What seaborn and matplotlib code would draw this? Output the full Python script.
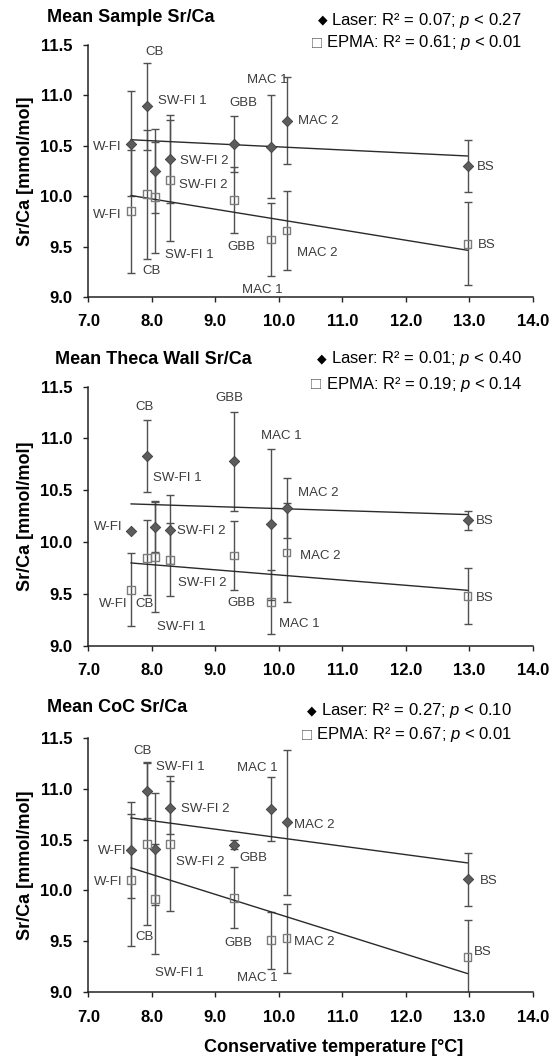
import matplotlib
matplotlib.use("Agg")
import matplotlib.pyplot as plt
import seaborn as sns

# ---- data -------------------------------------------------------------
stations = ["W-FI", "CB", "SW-FI 1", "SW-FI 2", "GBB", "MAC 1", "MAC 2", "BS"]
temperature = [7.67, 7.93, 8.05, 8.29, 9.30, 9.87, 10.12, 12.97]

sample_laser = [10.52, 10.89, 10.25, 10.37, 10.52, 10.49, 10.75, 10.30]
sample_laser_err = [0.52, 0.43, 0.42, 0.44, 0.28, 0.51, 0.43, 0.26]
sample_epma = [9.85, 10.02, 9.99, 10.16, 9.96, 9.57, 9.66, 9.53]
sample_epma_err = [0.61, 0.64, 0.55, 0.60, 0.33, 0.36, 0.39, 0.41]

theca_laser = [10.11, 10.83, 10.15, 10.12, 10.78, 10.17, 10.33, 10.21]
theca_laser_err = [0.0, 0.35, 0.25, 0.33, 0.48, 0.73, 0.29, 0.09]
theca_epma = [9.54, 9.85, 9.86, 9.83, 9.87, 9.42, 9.90, 9.48]
theca_epma_err = [0.35, 0.36, 0.53, 0.35, 0.33, 0.31, 0.48, 0.27]

coc_laser = [10.40, 10.98, 10.41, 10.81, 10.45, 10.80, 10.67, 10.11]
coc_laser_err = [0.47, 0.27, 0.55, 0.26, 0.045, 0.315, 0.71, 0.26]
coc_epma = [10.10, 10.46, 9.92, 10.46, 9.93, 9.51, 9.53, 9.35]
coc_epma_err = [0.65, 0.80, 0.54, 0.66, 0.30, 0.28, 0.34, 0.36]

panel_titles = ["Mean Sample Sr/Ca", "Mean Theca Wall Sr/Ca", "Mean CoC Sr/Ca"]
laser_stats = ["R\u00b2 = 0.07; $p$ < 0.27", "R\u00b2 = 0.01; $p$ < 0.40", "R\u00b2 = 0.27; $p$ < 0.10"]
epma_stats = ["R\u00b2 = 0.61; $p$ < 0.01", "R\u00b2 = 0.19; $p$ < 0.14", "R\u00b2 = 0.67; $p$ < 0.01"]

y_ticks = [9.0, 9.5, 10.0, 10.5, 11.0, 11.5]
x_ticks = [7.0, 8.0, 9.0, 10.0, 11.0, 12.0, 13.0, 14.0]

# ---- layout (pixels) ----------------------------------------------------
W, H = 553, 1059
axes_px = [(88.3, 45.0, 533.0, 297.0),
           (88.3, 386.7, 533.0, 645.7),
           (88.3, 737.7, 533.0, 992.3)]
title_px = [(47, 17), (55, 360), (47, 707)]
legend_px = [((522, 20), (522, 43)), ((522, 359), (522, 385)), ((512, 711), (512, 735))]

# station label offsets in pixels (dx, dy, ha) relative to each marker
laser_label_pos = [
    [(-9, -3, "right"), (7, 54, "center"), (3, 70, "left"), (10, -2, "left"),
     (9, 41, "center"), (-3, 67, "center"), (11, 0, "left"), (9, -1, "left")],
    [(-8, 4, "right"), (-3, 49, "center"), (-2, 49, "left"), (7, -1, "left"),
     (-5, 63, "center"), (11, 88, "center"), (11, 15, "left"), (8, -1, "left")],
    [(-4, -1, "right"), (-5, 40, "center"), (1, 82, "left"), (11, -1, "left"),
     (5, -13, "left"), (-13, 41, "center"), (7, -3, "left"), (12, -2, "left")],
]
epma_label_pos = [
    [(-9, -4, "right"), (4, -77, "center"), (10, -58, "left"), (9, -5, "left"),
     (7, -47, "center"), (-8, -50, "center"), (10, -23, "left"), (10, -1, "left")],
    [(-3, -14, "right"), (-3, -46, "center"), (2, -70, "left"), (8, -23, "left"),
     (7, -47, "center"), (8, -22, "left"), (13, -4, "left"), (8, -2, "left")],
    [(-8, -2, "right"), (-3, -93, "center"), (0, -74, "left"), (6, -18, "left"),
     (4, -45, "center"), (-13, -38, "center"), (7, -4, "left"), (6, 5, "left")],
]

# ---- style ------------------------------------------------------------------
sns.set_theme(style="ticks")
plt.rcParams["font.family"] = ["Liberation Sans", "DejaVu Sans"]
plt.rcParams["mathtext.fontset"] = "custom"
plt.rcParams["mathtext.rm"] = "Liberation Sans"
plt.rcParams["mathtext.it"] = "Liberation Sans:italic"

BAR = "#505050"
DIAMOND = "#5c5c5c"
SQUARE = "#7c7c7c"
LABEL = "#3c3c3c"
FIT = "#2a2a2a"

fig = plt.figure(figsize=(W / 100, H / 100), dpi=100)


def fig_xy(px, py):
    return px / W, 1 - py / H


panels = [
    (sample_laser, sample_laser_err, sample_epma, sample_epma_err),
    (theca_laser, theca_laser_err, theca_epma, theca_epma_err),
    (coc_laser, coc_laser_err, coc_epma, coc_epma_err),
]

for i, (laser, laser_err, epma, epma_err) in enumerate(panels):
    l, t, r, b = axes_px[i]
    ax = fig.add_axes([l / W, 1 - b / H, (r - l) / W, (b - t) / H])

    for vals, errs in ((laser, laser_err), (epma, epma_err)):
        ax.errorbar(temperature, vals, yerr=errs, fmt="none", ecolor=BAR,
                    elinewidth=1.0, capsize=2.6, capthick=1.0, zorder=2)

    for vals in (laser, epma):
        sns.regplot(x=temperature, y=vals, ax=ax, scatter=False, ci=None,
                    truncate=True, line_kws=dict(color=FIT, lw=1.0, zorder=3))

    sns.scatterplot(x=temperature, y=laser, ax=ax, marker="D", s=28,
                    color=DIAMOND, edgecolor="#3d3d3d", linewidth=0.6,
                    zorder=4, legend=False)
    sns.scatterplot(x=temperature, y=epma, ax=ax, marker="s", s=32,
                    color=SQUARE, edgecolor=SQUARE, linewidth=1.0,
                    zorder=4, legend=False)
    ax.collections[-1].set_facecolor("none")

    for name, tx, v, (dx, dy, ha) in zip(stations, temperature, laser, laser_label_pos[i]):
        ax.annotate(name, (tx, v), xytext=(dx, dy), textcoords="offset pixels",
                    ha=ha, va="center", fontsize=9.5, color=LABEL, zorder=5)
    for name, tx, v, (dx, dy, ha) in zip(stations, temperature, epma, epma_label_pos[i]):
        ax.annotate(name, (tx, v), xytext=(dx, dy), textcoords="offset pixels",
                    ha=ha, va="center", fontsize=9.5, color=LABEL, zorder=5)

    ax.set_xlim(7, 14)
    ax.set_ylim(9, 11.5)
    ax.set_xticks(x_ticks)
    ax.set_yticks(y_ticks)
    ax.set_xticklabels([f"{v:.1f}" for v in x_ticks])
    ax.set_yticklabels([f"{v:.1f}" for v in y_ticks])
    ax.tick_params(axis="both", direction="out", length=3.6, width=1.0,
                   colors="#222222", labelsize=12)
    ax.tick_params(axis="x", pad=9)
    ax.tick_params(axis="y", pad=8)
    for lab in ax.get_xticklabels() + ax.get_yticklabels():
        lab.set_fontweight("bold")
        lab.set_color("black")
    sns.despine(ax=ax)
    for side in ("left", "bottom"):
        ax.spines[side].set_color("#222222")
        ax.spines[side].set_linewidth(1.1)
    ax.set_ylabel("Sr/Ca [mmol/mol]", fontsize=13, fontweight="bold",
                  color="black", labelpad=4)
    ax.set_xlabel("")

    # panel title
    fx, fy = fig_xy(*title_px[i])
    fig.text(fx, fy, panel_titles[i], ha="left", va="center", fontsize=13,
             fontweight="bold", color="black")

    # regression statistics key
    for (px, py), glyph, gcol, gsize, label in (
            (legend_px[i][0], "\u25c6", "black", 9, "Laser: " + laser_stats[i]),
            (legend_px[i][1], "\u25a1", "#666666", 12, "EPMA: " + epma_stats[i])):
        fx, fy = fig_xy(px, py)
        txt = fig.text(fx, fy, label, ha="right", va="center", fontsize=12,
                       color="black")
        ax.annotate(glyph, xy=(0, 0.5), xycoords=txt, xytext=(-3, 0),
                    textcoords="offset points", ha="right", va="center",
                    fontsize=gsize, color=gcol, annotation_clip=False)

fx, fy = fig_xy(334, 1048)
fig.text(fx, fy, "Conservative temperature [\u00b0C]", ha="center", va="center",
         fontsize=13, fontweight="bold", color="black")

fig.savefig("out.png", dpi=100, facecolor="white")
